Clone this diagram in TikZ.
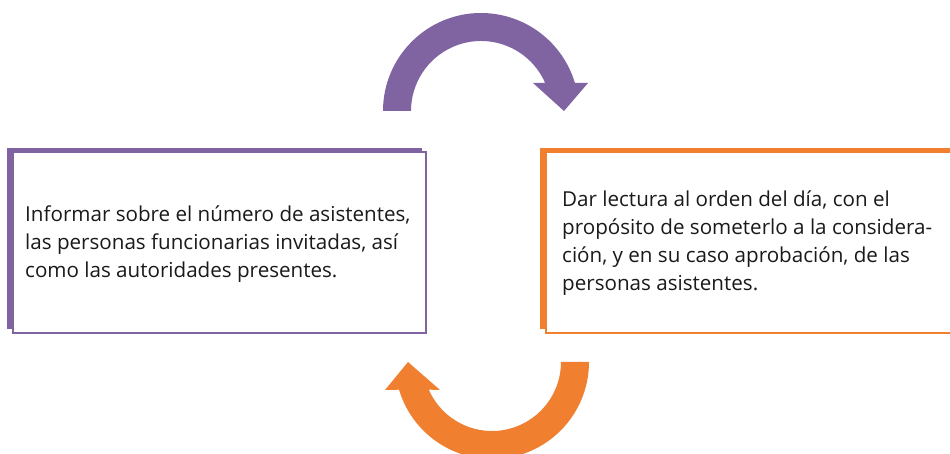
\documentclass[tikz,border=0pt]{standalone}
\usepackage{fontspec}
\setmainfont{Open Sans}
\definecolor{lila}{HTML}{8064A2}
\definecolor{naranja}{HTML}{F07F2F}
\definecolor{texto}{HTML}{1A1A1A}
\begin{document}
\begin{tikzpicture}[x=1pt,y=1pt,
  backbar/.style={fill=#1, draw=none},
  frontbox/.style={draw=#1, line width=1.6pt, fill=white},
  boxtext/.style={anchor=base west, inner sep=0pt, text=texto,
    font=\fontsize{20.6}{27.7}\selectfont},
  bigarrow/.style={fill=#1, draw=none}]
\useasboundingbox (0,0) rectangle (950,454);
\clip (0,0) rectangle (950,454);
% left box
\fill[backbar=lila] (7,306) rectangle (422,125);
\draw[frontbox=lila] (13,302) rectangle (426,121);
\node[boxtext] (lefttext) at (25,232) {\parbox[t]{400pt}{\raggedright
Informar sobre el número de asistentes,\\
las personas funcionarias invitadas, así\\
como las autoridades presentes.}};
% right box
\fill[backbar=naranja] (540,306) rectangle (965,125);
\draw[frontbox=naranja] (546,302) rectangle (965,121);
\node[boxtext] (righttext) at (562,247) {\parbox[t]{400pt}{\raggedright
Dar lectura al orden del día, con el\\
propósito de someterlo a la considera-\\
ción, y en su caso aprobación, de las\\
personas asistentes.}};
% top arrow
\fill[bigarrow=lila, shift={(481,343)}]
  (180:98) arc[start angle=180, end angle=16.6, radius=98]
  -- (107,28) -- (83,0) -- (52,28) -- (23.6:70)
  arc[start angle=23.6, end angle=180, radius=70] -- cycle;
% bottom arrow
\fill[bigarrow=naranja, shift={(492,92)}, rotate=180]
  (180:97) arc[start angle=180, end angle=16.6, radius=97]
  -- (107,28) -- (84,0) -- (52,28) -- (23.6:69)
  arc[start angle=23.6, end angle=180, radius=69] -- cycle;
\end{tikzpicture}
\end{document}
